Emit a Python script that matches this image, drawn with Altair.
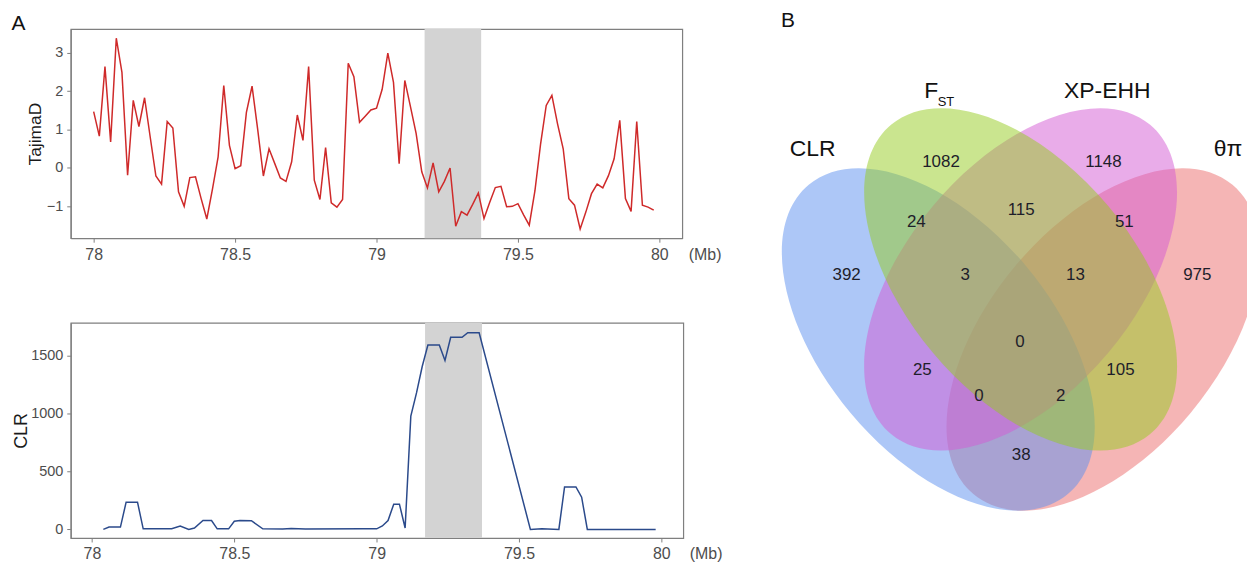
import altair as alt
import numpy as np
import pandas as pd

FONT = "Liberation Sans"

# ---------------- Panel A data ----------------
tajima_pos = [
    78.00, 78.02, 78.04, 78.06, 78.08, 78.10, 78.12, 78.14, 78.16, 78.18,
    78.20, 78.22, 78.24, 78.26, 78.28, 78.30, 78.32, 78.34, 78.36, 78.38,
    78.40, 78.42, 78.44, 78.46, 78.48, 78.50, 78.52, 78.54, 78.56, 78.58,
    78.60, 78.62, 78.64, 78.66, 78.68, 78.70, 78.72, 78.74, 78.76, 78.78,
    78.80, 78.82, 78.84, 78.86, 78.88, 78.90, 78.92, 78.94, 78.96, 78.98,
    79.00, 79.02, 79.04, 79.06, 79.08, 79.10, 79.12, 79.14, 79.16, 79.18,
    79.20, 79.22, 79.24, 79.26, 79.28, 79.30, 79.32, 79.34, 79.36, 79.38,
    79.40, 79.42, 79.44, 79.46, 79.48, 79.50, 79.52, 79.54, 79.56, 79.58,
    79.60, 79.62, 79.64, 79.66, 79.68, 79.70, 79.72, 79.74, 79.76, 79.78,
    79.80, 79.82, 79.84, 79.86, 79.88, 79.90, 79.92, 79.94, 79.96, 79.98,
]
tajima_d = [
    1.47, 0.83, 2.64, 0.68, 3.38, 2.49, -0.19, 1.76, 1.08, 1.83,
    0.80, -0.21, -0.42, 1.21, 1.04, -0.62, -1.00, -0.25, -0.23, -0.80,
    -1.33, -0.55, 0.29, 2.15, 0.59, -0.02, 0.06, 1.45, 2.13, 1.00,
    -0.21, 0.50, 0.12, -0.26, -0.35, 0.16, 1.38, 0.72, 2.64, -0.32,
    -0.82, 0.53, -0.91, -1.02, -0.82, 2.73, 2.38, 1.19, 1.35, 1.51,
    1.56, 2.05, 2.99, 2.23, 0.11, 2.28, 1.60, 0.90, -0.10, -0.52,
    0.13, -0.62, -0.35, 0.00, -1.52, -1.14, -1.23, -0.95, -0.65, -1.32,
    -0.90, -0.51, -0.48, -1.01, -1.00, -0.93, -1.22, -1.49, -0.60, 0.62,
    1.63, 1.89, 1.15, 0.50, -0.80, -0.97, -1.59, -1.15, -0.67, -0.42,
    -0.52, -0.20, 0.24, 1.24, -0.80, -1.13, 1.21, -0.97, -1.02, -1.10,
]
clr_pos = [
    78.04, 78.06, 78.10, 78.12, 78.16, 78.18, 78.28, 78.31, 78.34, 78.36,
    78.39, 78.42, 78.44, 78.48, 78.50, 78.52, 78.56, 78.60, 78.67, 78.70,
    78.75, 78.95, 79.00, 79.02, 79.04, 79.06, 79.08, 79.10, 79.12, 79.14,
    79.16, 79.18, 79.22, 79.24, 79.26, 79.30, 79.32, 79.36, 79.54, 79.58,
    79.64, 79.66, 79.70, 79.72, 79.74, 79.98,
]
clr_val = [
    0, 20, 20, 235, 235, 5, 5, 30, 0, 12,
    77, 77, 5, 5, 70, 77, 75, 5, 3, 8,
    3, 5, 5, 30, 77, 218, 218, 12, 978, 1178,
    1406, 1592, 1592, 1458, 1658, 1658, 1698, 1698, 0, 6,
    0, 366, 366, 278, 0, 0,
]
band_start = [79.17]
band_end = [79.37]
mb_ticks = [78, 78.5, 79, 79.5, 80]
tajima_ticks = [-1, 0, 1, 2, 3]
clr_ticks = [0, 500, 1000, 1500]

# ---------------- Panel B data ----------------
set_names = ["CLR", "FST", "XP-EHH", "θπ"]
set_colors = ["#5b8ff0", "#95cc1f", "#d45ad4", "#ec6b6b"]
set_label_text = ["CLR", "F", "XP-EHH", "θπ"]
sub_label_text = ["ST"]
region_counts = [1082, 1148, 24, 115, 51, 392, 3, 13, 975, 0, 25, 105, 0, 2, 38]

# ---------------- Venn layout (unit square, classic 4-ellipse layout) ----------------
ell_cx = [0.35, 0.50, 0.50, 0.65]
ell_cy = [0.47, 0.57, 0.57, 0.47]
ell_rot = [-45, -45, 45, 45]
draw_order = [2, 4, 3, 1]
ELL_A, ELL_B = 0.35, 0.20
region_u = [0.355, 0.651, 0.310, 0.501, 0.689, 0.183, 0.399, 0.600, 0.822,
            0.499, 0.321, 0.682, 0.424, 0.573, 0.501]
region_v = [0.766, 0.766, 0.666, 0.686, 0.666, 0.578, 0.578, 0.578, 0.578,
            0.466, 0.419, 0.419, 0.376, 0.376, 0.277]
label_u = [0.121, 0.337, 0.658, 0.878]
label_v = [0.787, 0.883, 0.883, 0.787]
sub_u = [0.364]
sub_v = [0.865]

# ---------------- styles ----------------
GRAY = "#7f7f7f"
LAB = "#4d4d4d"
ax_style = dict(domainColor=GRAY, domainWidth=1.2, tickColor=GRAY, tickSize=4,
                tickWidth=1, labelColor=LAB, labelFont=FONT,
                titleFont=FONT, titleFontWeight="normal", grid=False)
frame = alt.ViewBackground(stroke=GRAY, strokeWidth=1.2)

W1, H1 = 614, 210
W2, H2 = 615, 216


def mb_axis(w):
    return alt.Axis(values=mb_ticks, format="~g", title="(Mb)", titleAngle=0,
                    titleAlign="left", titleBaseline="top", titleX=w + 6, titleY=8,
                    titleFontSize=16, titleColor=LAB, labelFontSize=16,
                    labelPadding=4, **ax_style)


# ---- top panel: TajimaD ----
taj_df = pd.DataFrame({"pos": tajima_pos, "D": tajima_d})
band_df = pd.DataFrame({"start": band_start, "end": band_end})
xs_top = alt.Scale(domain=[77.919, 80.081], nice=False, zero=False)
ys_top = alt.Scale(domain=[-1.83, 3.62], nice=False, zero=False)
y_axis_top = alt.Axis(values=tajima_ticks, format="d", title="TajimaD", titleFontSize=17.5,
                      titleColor="#1a1a1a", titlePadding=2, labelFontSize=14.5,
                      labelPadding=4, **ax_style)

band_top = alt.Chart(band_df).mark_rect(color="#d3d3d3").encode(
    x=alt.X("start:Q", scale=xs_top, axis=mb_axis(W1)), x2="end:Q")
line_top = alt.Chart(taj_df).mark_line(color="#cf2a2a", strokeWidth=1.5).encode(
    x=alt.X("pos:Q", scale=xs_top, axis=mb_axis(W1)),
    y=alt.Y("D:Q", scale=ys_top, axis=y_axis_top))
top = alt.layer(band_top, line_top).properties(
    width=W1, height=H1, view=frame,
    title=alt.TitleParams("A", anchor="start", frame="bounds", fontSize=21,
                          fontWeight="normal", font=FONT, color="#111111",
                          offset=-9.5, dx=-15, dy=-5))

# ---- bottom panel: CLR ----
clr_df = pd.DataFrame({"pos": clr_pos, "CLR": clr_val})
xs_bot = alt.Scale(domain=[77.9255, 80.077], nice=False, zero=False)
ys_bot = alt.Scale(domain=[-74, 1783], nice=False, zero=False)
y_axis_bot = alt.Axis(values=clr_ticks, format="d", title="CLR", titleFontSize=18,
                      titleColor="#1a1a1a", titlePadding=0, labelFontSize=14.5,
                      labelPadding=4, **ax_style)
band_bot = alt.Chart(band_df).mark_rect(color="#d3d3d3").encode(
    x=alt.X("start:Q", scale=xs_bot, axis=mb_axis(W2)), x2="end:Q")
line_bot = alt.Chart(clr_df).mark_line(color="#2b4a8b", strokeWidth=1.5).encode(
    x=alt.X("pos:Q", scale=xs_bot, axis=mb_axis(W2)),
    y=alt.Y("CLR:Q", scale=ys_bot, axis=y_axis_bot))
bottom = alt.layer(band_bot, line_bot).properties(width=W2, height=H2, view=frame)

# ---- Venn panel ----
SX, SY = 551.0, 603.0          # px per unit (x, y)
XV, YV = 779.0, 27.5           # expected page position of the venn plot origin
WV, HV = 468, 500
u0 = 0.065 - (780 - XV) / SX
u1 = u0 + WV / SX
v1 = 0.185 + (511 - YV) / SY
v0 = v1 - HV / SY
xs_v = alt.Scale(domain=[u0, u1], nice=False, zero=False)
ys_v = alt.Scale(domain=[v0, v1], nice=False, zero=False)


def ellipse_geom(rot):
    t = np.radians(rot)
    R = np.array([[np.cos(t), -np.sin(t)], [np.sin(t), np.cos(t)]])
    M = np.diag([SX, -SY]) @ R @ np.diag([ELL_A, ELL_B])
    U, S, Vt = np.linalg.svd(M)
    ang = float(np.degrees(np.arctan2(U[1, 0], U[0, 0])) % 180)
    return float(S[0]), float(S[1]), ang


geoms = [ellipse_geom(r) for r in ell_rot]
A_px, B_px = geoms[0][0], geoms[0][1]
r = B_px / A_px
k = 0.5523
ell_path = (f"M1,0 C1,{k*r:.4f} {k:.4f},{r:.4f} 0,{r:.4f} "
            f"C{-k:.4f},{r:.4f} -1,{k*r:.4f} -1,0 "
            f"C-1,{-k*r:.4f} {-k:.4f},{-r:.4f} 0,{-r:.4f} "
            f"C{k:.4f},{-r:.4f} 1,{-k*r:.4f} 1,0 Z")

ell_df = pd.DataFrame({"set": set_names, "cx": ell_cx, "cy": ell_cy,
                       "angle": [g[2] for g in geoms], "draw": draw_order})
ellipses = alt.Chart(ell_df).mark_point(
    shape=ell_path, size=4 * A_px * A_px, filled=True, opacity=0.5,
    strokeWidth=0, clip=True).encode(
    x=alt.X("cx:Q", scale=xs_v, axis=None),
    y=alt.Y("cy:Q", scale=ys_v, axis=None),
    color=alt.Color("set:N", scale=alt.Scale(domain=set_names, range=set_colors), legend=None),
    angle=alt.Angle("angle:Q", scale=None),
    order=alt.Order("draw:Q"))

reg_df = pd.DataFrame({"u": region_u, "v": region_v, "n": region_counts})
regions = alt.Chart(reg_df).mark_text(fontSize=17, font=FONT, color="#1e1e2a").encode(
    x=alt.X("u:Q", scale=xs_v, axis=None), y=alt.Y("v:Q", scale=ys_v, axis=None),
    text=alt.Text("n:Q", format="d"))

lab_df = pd.DataFrame({"u": label_u, "v": label_v, "t": set_label_text})
labels = alt.Chart(lab_df).mark_text(fontSize=23, font=FONT, color="#111111").encode(
    x=alt.X("u:Q", scale=xs_v, axis=None), y=alt.Y("v:Q", scale=ys_v, axis=None),
    text="t:N")
sub_df = pd.DataFrame({"u": sub_u, "v": sub_v, "t": sub_label_text})
sub = alt.Chart(sub_df).mark_text(fontSize=13, font=FONT, color="#111111").encode(
    x=alt.X("u:Q", scale=xs_v, axis=None), y=alt.Y("v:Q", scale=ys_v, axis=None),
    text="t:N")

venn = alt.layer(ellipses, regions, labels, sub).properties(
    width=WV, height=HV, view=alt.ViewBackground(stroke="transparent"),
    title=alt.TitleParams("B", anchor="start", frame="bounds", fontSize=21,
                          fontWeight="normal", font=FONT, color="#111111",
                          offset=-2))

left = alt.vconcat(top, bottom, spacing=59)
chart = alt.hconcat(left, venn, spacing=57).properties(
    padding={"left": 2, "top": 0, "right": 0, "bottom": 0}
).configure_view(stroke="transparent").configure(font=FONT)

chart.save("out.html", embed_options={"renderer": "svg", "actions": False})
